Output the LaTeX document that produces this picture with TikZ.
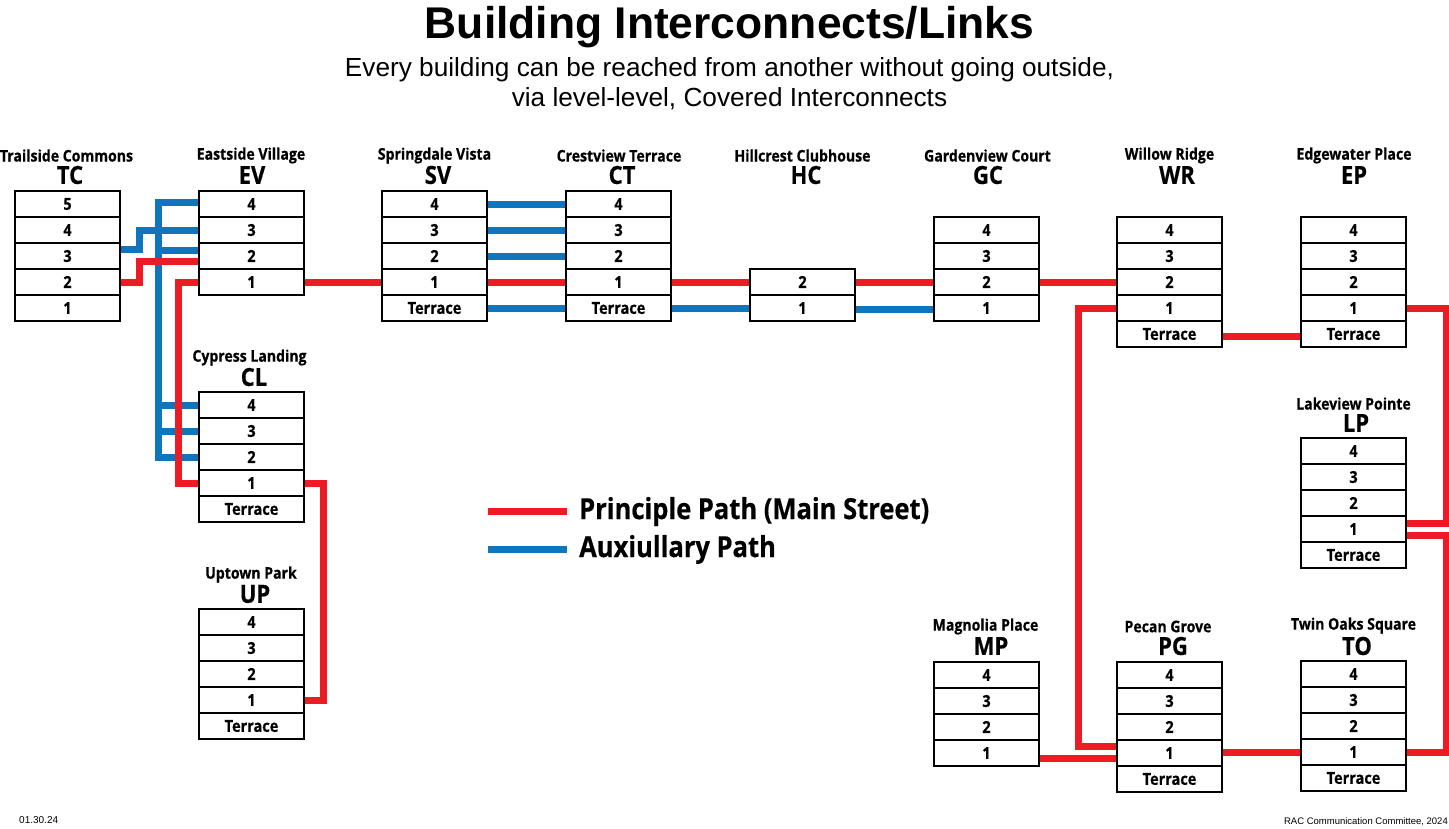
\documentclass[tikz,border=0pt]{standalone}
\usepackage{fontspec}
\setmainfont{Liberation Sans}
\newfontfamily\cond[FakeStretch=0.88,BoldFeatures={FakeStretch=0.88,FakeBold=0.5}]{Open Sans}
\usetikzlibrary{backgrounds}
\tikzset{
  cell/.style={draw=black,line width=1.3pt,fill=white,minimum width=105pt,minimum height=26pt,inner sep=0pt,
    font=\cond\bfseries\fontsize{16.5}{16}\selectfont},
  bname/.style={inner sep=0pt,font=\cond\bfseries\fontsize{16}{17}\selectfont},
  bcode/.style={inner sep=0pt,font=\cond\bfseries\fontsize{25}{24}\selectfont},
  redpath/.style={draw={rgb,255:red,237;green,28;blue,36},line width=7pt},
  bluepath/.style={draw={rgb,255:red,15;green,117;blue,188},line width=7pt},
  legendtxt/.style={anchor=west,inner sep=0pt,font=\cond\bfseries\fontsize{29}{29}\selectfont}
}
\newcommand{\floors}[4]{%
  \foreach \lab [count=\i from 0] in {#4} {
    \node[cell] (#1-\lab) at ({#2+52.5},{#3+13+26*\i}) {\raisebox{-0.8pt}{\lab}};
  }
}
% id, left, top, name, name x, name y, code x, code y, floors
\newcommand{\bldg}[9]{%
  \node[bname] (#1-name) at (#5,#6) {#4};
  \node[bcode] (#1-code) at (#7,#8) {#1};
  \floors{#1}{#2}{#3}{#9}
}
\begin{document}
\begin{tikzpicture}[x=1pt,y=-1pt]
\useasboundingbox (0,0) rectangle (1449,828);

\node[inner sep=0pt,font=\bfseries\fontsize{44.4}{44}\selectfont] (title) at (729.5,27) {Building Interconnects/Links};
\node[inner sep=0pt,font=\fontsize{26.2}{26}\selectfont] (sub1) at (729.5,70) {Every building can be reached from another without going outside,};
\node[inner sep=0pt,font=\fontsize{26.2}{26}\selectfont] (sub2) at (729.5,98.5) {via level-level, Covered Interconnects};

\bldg{TC}{15}{191}{Trailside Commons}{66.5}{155.5}{70}{175}{5,4,3,2,1}
\bldg{EV}{199}{191}{Eastside Village}{251}{155.5}{252}{175}{4,3,2,1}
\bldg{SV}{382}{191}{Springdale Vista}{434.5}{155.5}{438}{175}{4,3,2,1,Terrace}
\bldg{CT}{566}{191}{Crestview Terrace}{619}{155.5}{622}{175}{4,3,2,1,Terrace}
\bldg{HC}{750}{269}{Hillcrest Clubhouse}{802.5}{155.5}{806}{175}{2,1}
\bldg{GC}{934}{217}{Gardenview Court}{987.5}{155.5}{988}{175}{4,3,2,1}
\bldg{WR}{1117}{217}{Willow Ridge}{1169.5}{155.5}{1177}{175}{4,3,2,1,Terrace}
\bldg{EP}{1301}{217}{Edgewater Place}{1354}{155.5}{1354}{175}{4,3,2,1,Terrace}
\bldg{LP}{1301}{438}{Lakeview Pointe}{1353.5}{403.5}{1356}{423}{4,3,2,1,Terrace}
\bldg{CL}{199}{392}{Cypress Landing}{249.5}{357.5}{254}{377}{4,3,2,1,Terrace}
\bldg{UP}{199}{609}{Uptown Park}{251}{574.5}{255}{594}{4,3,2,1,Terrace}
\bldg{MP}{934}{662}{Magnolia Place}{985.5}{626.5}{991}{646}{4,3,2,1}
\bldg{PG}{1117}{662}{Pecan Grove}{1168}{626.5}{1173}{646}{4,3,2,1,Terrace}
\bldg{TO}{1301}{661}{Twin Oaks Square}{1353.5}{625.5}{1357}{646}{4,3,2,1,Terrace}

\coordinate (lr1) at (488,511);
\coordinate (lr2) at (567,511);
\coordinate (lb1) at (488,549);
\coordinate (lb2) at (567,549);
\node[legendtxt] (lrt) at (579,511.5) {Principle Path (Main Street)};
\node[legendtxt] (lbt) at (579,549.5) {Auxiullary Path};

\node[anchor=west,inner sep=0pt,font=\fontsize{10}{10}\selectfont] (date) at (19,820) {01.30.24};
\node[anchor=east,inner sep=0pt,font=\fontsize{9.5}{10}\selectfont] (credit) at (1448,822) {RAC Communication Committee, 2024};

\begin{scope}[on background layer]
  % blue paths
  \draw[bluepath] ([yshift=7pt]TC-3.east) -- ++(19,0) |- (EV-3.west);
  \draw[bluepath] ([yshift=2pt]EV-4.west) -- ++(-40,0) |- (CL-2.west);
  \draw[bluepath] ([yshift=6pt]EV-2.west) -- ++(-40,0);
  \draw[bluepath] (CL-4.west) -- ++(-40,0);
  \draw[bluepath] (CL-3.west) -- ++(-40,0);
  \draw[bluepath] (SV-4.east) -- (CT-4.west);
  \draw[bluepath] (SV-3.east) -- (CT-3.west);
  \draw[bluepath] (SV-2.east) -- (CT-2.west);
  \draw[bluepath] (SV-Terrace.east) -- (CT-Terrace.west);
  \draw[bluepath] (CT-Terrace.east) -- (HC-1.west);
  \draw[bluepath] ([yshift=-1.5pt]HC-1.east) -- ([yshift=-1.5pt]GC-1.west);
  \draw[bluepath] (lb1) -- (lb2);
  % red paths
  \draw[redpath] (TC-2.east) -- ++(19,0) |- ([yshift=-5.5pt]EV-2.west);
  \draw[redpath] (EV-1.west) -- ++(-20,0) |- (CL-1.west);
  \draw[redpath] (CL-1.east) -- ++(19,0) |- (UP-1.east);
  \draw[redpath] (EV-1.east) -- (SV-1.west);
  \draw[redpath] (SV-1.east) -- (CT-1.west);
  \draw[redpath] (CT-1.east) -- (HC-2.west);
  \draw[redpath] (HC-2.east) -- (GC-2.west);
  \draw[redpath] (GC-2.east) -- (WR-2.west);
  \draw[redpath] (WR-1.west) -- ++(-38,0) |- ([yshift=6.5pt]PG-1.west);
  \draw[redpath] ([yshift=-2pt]WR-Terrace.east) -- ([yshift=-2pt]EP-Terrace.west);
  \draw[redpath] (EP-1.east) -- ++(39.5,0) |- ([yshift=6pt]LP-1.east);
  \draw[redpath] ([yshift=-6pt]LP-1.east) -- ++(39.5,0) |- (TO-1.east);
  \draw[redpath] ([yshift=-5pt]MP-1.east) -- ([yshift=-5pt]PG-1.west);
  \draw[redpath] ([yshift=1pt]PG-1.east) -- ([yshift=1pt]PG-1.east -| TO-1.west);
  \draw[redpath] (lr1) -- (lr2);
\end{scope}
\end{tikzpicture}
\end{document}
